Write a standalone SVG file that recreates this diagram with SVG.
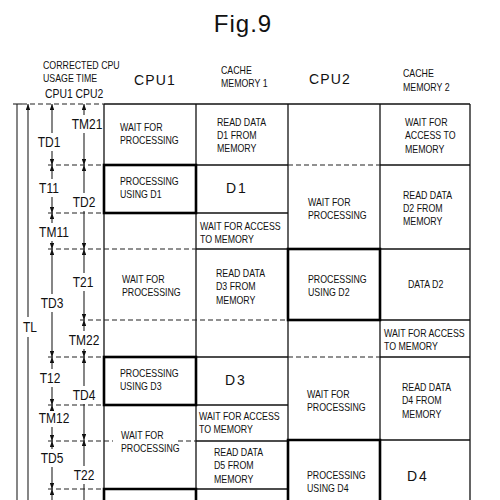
<svg xmlns="http://www.w3.org/2000/svg" width="500" height="500" viewBox="0 0 500 500">
<style>
.bg{fill:#fff}
.g{stroke:#111;stroke-width:1.3;fill:none}
.tk{stroke:#000;stroke-width:2.6;fill:none}
.d{stroke:#222;stroke-width:1.1;stroke-dasharray:5 3;fill:none}
.dim{stroke:#222;stroke-width:1.1;fill:none;marker-end:url(#ah)}
.ln{stroke:#222;stroke-width:1.1;fill:none}
.c{font-family:"Liberation Sans",Arial,sans-serif;font-size:11px;fill:#111}
.big{font-family:"Liberation Sans",Arial,sans-serif;font-size:14px;letter-spacing:2px;fill:#111}
.hd{font-family:"Liberation Sans",Arial,sans-serif;font-size:14px;letter-spacing:1.2px;fill:#111;text-anchor:middle}
.lb{font-family:"Liberation Sans",Arial,sans-serif;font-size:15px;fill:#111;text-anchor:middle}
</style>
<defs>
<marker id="ah" viewBox="0 0 8 6" refX="8" refY="3" markerWidth="7" markerHeight="4.5" markerUnits="userSpaceOnUse" orient="auto">
<path d="M0,0 L8,3 L0,6 z" fill="#111"/>
</marker>
</defs>
<rect class="bg" x="0" y="0" width="500" height="500"/>
<text x="243" y="32" font-family="Liberation Sans,Arial,sans-serif" font-size="24" letter-spacing="1" text-anchor="middle" fill="#111">Fig.9</text>

<g id="headers">
<text class="c" transform="translate(43,69) scale(0.8 1)"><tspan x="0">CORRECTED CPU</tspan><tspan x="0" dy="13">USAGE TIME</tspan></text>
<text font-family="Liberation Sans,Arial,sans-serif" font-size="13" fill="#111" transform="translate(45,98) scale(0.8 1)">CPU1 CPU2</text>
<text class="hd" x="155" y="85">CPU1</text>
<text class="c" transform="translate(221,74) scale(0.8 1)"><tspan x="0">CACHE</tspan><tspan x="0" dy="13">MEMORY 1</tspan></text>
<text class="hd" x="330" y="84">CPU2</text>
<text class="c" transform="translate(403,77) scale(0.8 1)"><tspan x="0">CACHE</tspan><tspan x="0" dy="14">MEMORY 2</tspan></text>
</g>

<g id="grid">
<line class="g" x1="104" y1="104" x2="470" y2="104"/>
<line class="g" x1="104" y1="104" x2="104" y2="500"/>
<line class="g" x1="196" y1="104" x2="196" y2="500"/>
<line class="g" x1="288" y1="104" x2="288" y2="500"/>
<line class="g" x1="380" y1="104" x2="380" y2="500"/>
<line class="g" x1="470" y1="104" x2="470" y2="500"/>
<line class="g" x1="196" y1="165" x2="288" y2="165"/>
<line class="g" x1="196" y1="213" x2="288" y2="213"/>
<line class="g" x1="196" y1="249" x2="288" y2="249"/>
<line class="g" x1="196" y1="357" x2="288" y2="357"/>
<line class="g" x1="196" y1="405" x2="288" y2="405"/>
<line class="g" x1="196" y1="441" x2="288" y2="441"/>
<line class="g" x1="196" y1="489" x2="288" y2="489"/>
<line class="g" x1="380" y1="165" x2="470" y2="165"/>
<line class="g" x1="380" y1="249" x2="470" y2="249"/>
<line class="g" x1="380" y1="320" x2="470" y2="320"/>
<line class="g" x1="380" y1="357" x2="470" y2="357"/>
<line class="g" x1="380" y1="440" x2="470" y2="440"/>
<line class="d" x1="22" y1="104" x2="104" y2="104"/>
<line class="d" x1="48" y1="165" x2="104" y2="165"/>
<line class="d" x1="48" y1="213" x2="104" y2="213"/>
<line class="d" x1="48" y1="249" x2="104" y2="249"/>
<line class="d" x1="80" y1="320" x2="104" y2="320"/>
<line class="d" x1="48" y1="357" x2="104" y2="357"/>
<line class="d" x1="48" y1="405" x2="104" y2="405"/>
<line class="d" x1="48" y1="441" x2="104" y2="441"/>
<line class="d" x1="48" y1="489" x2="104" y2="489"/>
<line class="d" x1="288" y1="165" x2="380" y2="165"/>
<line class="d" x1="104" y1="249" x2="196" y2="249"/>
<line class="d" x1="104" y1="320" x2="288" y2="320"/>
<line class="d" x1="288" y1="357" x2="380" y2="357"/>
<line class="d" x1="104" y1="441" x2="113" y2="441"/>
<line class="d" x1="178" y1="441" x2="196" y2="441"/>
<rect class="tk" x="104" y="165" width="92" height="48"/>
<rect class="tk" x="288" y="249" width="92" height="71"/>
<rect class="tk" x="104" y="357" width="92" height="48"/>
<path class="tk" d="M288,500 V440 H380 V500"/>
<path class="tk" d="M104,500 V489 H196 V500"/>
</g>

<g id="cell-cpu1-1"><text class="c" transform="translate(120,131) scale(0.8 1)"><tspan x="0">WAIT FOR</tspan><tspan x="0" dy="13.5">PROCESSING</tspan></text></g>
<g id="cell-cache1-1"><text class="c" transform="translate(217,125.5) scale(0.8 1)"><tspan x="0">READ DATA</tspan><tspan x="0" dy="13.5">D1 FROM</tspan><tspan x="0" dy="13.5">MEMORY</tspan></text></g>
<g id="cell-cache2-1"><text class="c" transform="translate(405,126) scale(0.8 1)"><tspan x="0">WAIT FOR</tspan><tspan x="0" dy="13.5">ACCESS TO</tspan><tspan x="0" dy="13.5">MEMORY</tspan></text></g>
<g id="cell-cpu1-2"><text class="c" transform="translate(120,185) scale(0.8 1)"><tspan x="0">PROCESSING</tspan><tspan x="0" dy="13.5">USING D1</tspan></text></g>
<g id="cell-cache1-2"><text class="big" x="226" y="193">D1</text></g>
<g id="cell-cpu2-2"><text class="c" transform="translate(308,206) scale(0.8 1)"><tspan x="0">WAIT FOR</tspan><tspan x="0" dy="13.5">PROCESSING</tspan></text></g>
<g id="cell-cache2-2"><text class="c" transform="translate(403,198.5) scale(0.8 1)"><tspan x="0">READ DATA</tspan><tspan x="0" dy="13.5">D2 FROM</tspan><tspan x="0" dy="13.5">MEMORY</tspan></text></g>
<g id="cell-cache1-3"><text class="c" transform="translate(200,229.5) scale(0.8 1)"><tspan x="0">WAIT FOR ACCESS</tspan><tspan x="0" dy="13.5">TO MEMORY</tspan></text></g>
<g id="cell-cpu1-4"><text class="c" transform="translate(122,283) scale(0.8 1)"><tspan x="0">WAIT FOR</tspan><tspan x="0" dy="13.5">PROCESSING</tspan></text></g>
<g id="cell-cache1-4"><text class="c" transform="translate(216,277) scale(0.8 1)"><tspan x="0">READ DATA</tspan><tspan x="0" dy="13.5">D3 FROM</tspan><tspan x="0" dy="13.5">MEMORY</tspan></text></g>
<g id="cell-cpu2-4"><text class="c" transform="translate(308,283) scale(0.8 1)"><tspan x="0">PROCESSING</tspan><tspan x="0" dy="13.5">USING D2</tspan></text></g>
<g id="cell-cache2-4"><text class="c" transform="translate(408,288) scale(0.8 1)">DATA D2</text></g>
<g id="cell-cache2-5"><text class="c" transform="translate(384,337) scale(0.8 1)"><tspan x="0">WAIT FOR ACCESS</tspan><tspan x="0" dy="13.5">TO MEMORY</tspan></text></g>
<g id="cell-cpu1-6"><text class="c" transform="translate(120,377) scale(0.8 1)"><tspan x="0">PROCESSING</tspan><tspan x="0" dy="13.5">USING D3</tspan></text></g>
<g id="cell-cache1-6"><text class="big" x="225" y="385">D3</text></g>
<g id="cell-cpu2-6"><text class="c" transform="translate(307,397.5) scale(0.8 1)"><tspan x="0">WAIT FOR</tspan><tspan x="0" dy="13.5">PROCESSING</tspan></text></g>
<g id="cell-cache2-6"><text class="c" transform="translate(402,391) scale(0.8 1)"><tspan x="0">READ DATA</tspan><tspan x="0" dy="13.5">D4 FROM</tspan><tspan x="0" dy="13.5">MEMORY</tspan></text></g>
<g id="cell-cache1-7"><text class="c" transform="translate(199,420) scale(0.8 1)"><tspan x="0">WAIT FOR ACCESS</tspan><tspan x="0" dy="13.5">TO MEMORY</tspan></text></g>
<g id="cell-cpu1-7"><text class="c" transform="translate(121,438.5) scale(0.8 1)"><tspan x="0">WAIT FOR</tspan><tspan x="0" dy="13.5">PROCESSING</tspan></text></g>
<g id="cell-cache1-8"><text class="c" transform="translate(214,456) scale(0.8 1)"><tspan x="0">READ DATA</tspan><tspan x="0" dy="13.5">D5 FROM</tspan><tspan x="0" dy="13.5">MEMORY</tspan></text></g>
<g id="cell-cpu2-8"><text class="c" transform="translate(307,479) scale(0.8 1)"><tspan x="0">PROCESSING</tspan><tspan x="0" dy="13.5">USING D4</tspan></text></g>
<g id="cell-cache2-8"><text class="big" x="407" y="481">D4</text></g>

<g id="connectors">
<line class="ln" x1="17" y1="104" x2="17" y2="500"/>
<line class="ln" x1="13" y1="104" x2="22" y2="104"/>
<line class="dim" x1="28" y1="317" x2="28" y2="104"/>
<line class="ln" x1="28" y1="337" x2="28" y2="500"/>
<line class="dim" x1="52" y1="133" x2="52" y2="104"/><line class="dim" x1="52" y1="151" x2="52" y2="165"/>
<line class="dim" x1="52" y1="179" x2="52" y2="165"/><line class="dim" x1="52" y1="197" x2="52" y2="213"/>
<line class="dim" x1="52" y1="223" x2="52" y2="213"/><line class="dim" x1="52" y1="241" x2="52" y2="249"/>
<line class="dim" x1="52" y1="294" x2="52" y2="249"/><line class="dim" x1="52" y1="312" x2="52" y2="357"/>
<line class="dim" x1="52" y1="369" x2="52" y2="357"/><line class="dim" x1="52" y1="387" x2="52" y2="405"/>
<line class="dim" x1="52" y1="409" x2="52" y2="405"/><line class="dim" x1="52" y1="427" x2="52" y2="441"/>
<line class="dim" x1="52" y1="449" x2="52" y2="441"/><line class="dim" x1="52" y1="467" x2="52" y2="489"/>
<line class="dim" x1="52" y1="500" x2="52" y2="489"/>
<line class="dim" x1="84" y1="115" x2="84" y2="104"/><line class="dim" x1="84" y1="133" x2="84" y2="165"/>
<line class="dim" x1="84" y1="193" x2="84" y2="165"/><line class="dim" x1="84" y1="211" x2="84" y2="249"/>
<line class="dim" x1="84" y1="273" x2="84" y2="249"/><line class="dim" x1="84" y1="291" x2="84" y2="320"/>
<line class="dim" x1="84" y1="331" x2="84" y2="320"/><line class="dim" x1="84" y1="349" x2="84" y2="357"/>
<line class="dim" x1="84" y1="386" x2="84" y2="357"/><line class="dim" x1="84" y1="404" x2="84" y2="440"/>
<line class="dim" x1="84" y1="466" x2="84" y2="440"/><line class="ln" x1="84" y1="484" x2="84" y2="500"/>
</g>

<g id="labels">
<text class="lb" transform="translate(30,332) scale(0.8 1)">TL</text>
<text class="lb" transform="translate(49,147) scale(0.8 1)">TD1</text>
<text class="lb" transform="translate(49,193) scale(0.8 1)">T11</text>
<text class="lb" transform="translate(54,237) scale(0.8 1)">TM11</text>
<text class="lb" transform="translate(52,308) scale(0.8 1)">TD3</text>
<text class="lb" transform="translate(50,383) scale(0.8 1)">T12</text>
<text class="lb" transform="translate(54,423) scale(0.8 1)">TM12</text>
<text class="lb" transform="translate(52,463) scale(0.8 1)">TD5</text>
<text class="lb" transform="translate(87,129) scale(0.8 1)">TM21</text>
<text class="lb" transform="translate(84,207) scale(0.8 1)">TD2</text>
<text class="lb" transform="translate(83,287) scale(0.8 1)">T21</text>
<text class="lb" transform="translate(84,345) scale(0.8 1)">TM22</text>
<text class="lb" transform="translate(84,400) scale(0.8 1)">TD4</text>
<text class="lb" transform="translate(84,480) scale(0.8 1)">T22</text>
</g>
</svg>
